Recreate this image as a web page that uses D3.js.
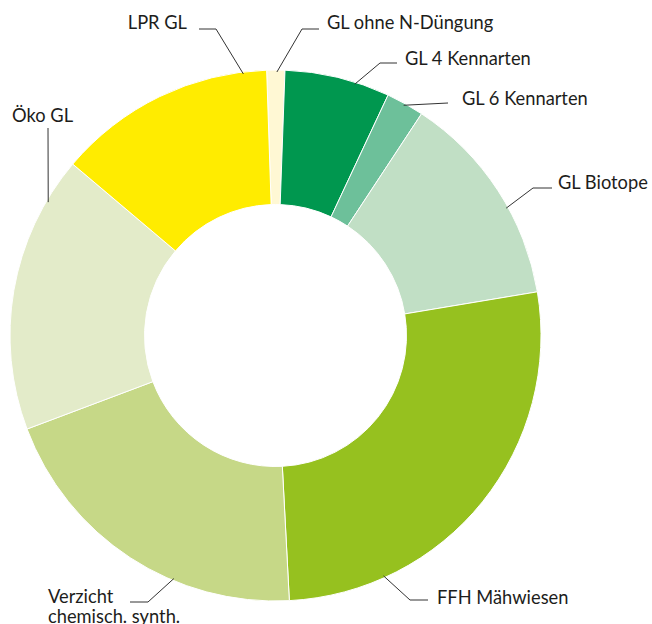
<!DOCTYPE html>
<html>
<head>
<meta charset="utf-8">
<script src="https://cdn.jsdelivr.net/npm/d3@7"></script>
<style>
  html, body { margin: 0; padding: 0; background: #fff; }
  svg { display: block; }
  text { font-family: Lato, "Open Sans", sans-serif; font-size: 18.3px; fill: #1d1d1b; }
</style>
</head>
<body>
<svg id="chart" width="652" height="624"></svg>
<script>
// ---- data ----
const categories = ["GL ohne N-Düngung", "GL 4 Kennarten", "GL 6 Kennarten", "GL Biotope",
                    "FFH Mähwiesen", "Verzicht chemisch. synth.", "Öko GL", "LPR GL"];
const values = [1.1, 6.4, 2.3, 13.1, 26.8, 20.1, 16.9, 13.3];
const colors = ["#fff8d4", "#00974f", "#6dc09a", "#c1dfc5", "#96c11f", "#c6d887", "#e3ebc9", "#ffec00"];
const labelLines = [["GL ohne N-Düngung"], ["GL 4 Kennarten"], ["GL 6 Kennarten"], ["GL Biotope"],
                    ["FFH Mähwiesen"], ["Verzicht", "chemisch. synth."], ["Öko GL"], ["LPR GL"]];

// ---- layout ----
const cx = 275.5, cy = 335.5, rOuter = 265.5, rInner = 131;
const startDeg = -1.91;
// leader: angle on outer ring (deg), elbow point, end point, text position
const leaders = [
  { a: 0.3,   elbow: [302, 29],  end: [319, 29],  tx: 327, ty: 29,  anchor: "start" },
  { a: 17.5,  elbow: [380, 63],  end: [397, 63],  tx: 405, ty: 65,  anchor: "start" },
  { a: 29.1,  elbow: null,       end: [448, 103], tx: 462, ty: 105, anchor: "start" },
  { a: 61.1,  elbow: [533, 188], end: [552, 188], tx: 558, ty: 189, anchor: "start" },
  { a: 155.8, elbow: [410, 600], end: [428, 600], tx: 437, ty: 604, anchor: "start" },
  { a: 202.7, elbow: [148, 602], end: [130, 602], tx: 48,  ty: 603, anchor: "start" },
  { a: 300.4, elbow: null,       end: [48, 128],  tx: 12,  ty: 122, anchor: "start" },
  { a: -7.0,  elbow: [216, 29],  end: [199, 29],  tx: 187, ty: 29,  anchor: "end" }
];

const svg = d3.select("#chart");
const g = svg.append("g").attr("transform", `translate(${cx},${cy})`);

const rad = d => d * Math.PI / 180;
const pie = d3.pie().sort(null).value(d => d)
  .startAngle(rad(startDeg)).endAngle(rad(startDeg + 360));
const arc = d3.arc().innerRadius(rInner).outerRadius(rOuter);

g.selectAll("path.slice")
  .data(pie(values))
  .join("path")
  .attr("class", "slice")
  .attr("d", arc)
  .attr("fill", (d, i) => colors[i])
  .attr("stroke", "#fff")
  .attr("stroke-width", 1);

// leaders
const lines = svg.append("g");
leaders.forEach((L, i) => {
  const ang = rad(L.a);
  const sx = cx + (rOuter - 2) * Math.sin(ang);
  const sy = cy - (rOuter - 2) * Math.cos(ang);
  const pts = [[sx, sy]];
  if (L.elbow) pts.push(L.elbow);
  pts.push(L.end);
  lines.append("path")
    .attr("d", d3.line()(pts))
    .attr("fill", "none")
    .attr("stroke", "#333")
    .attr("stroke-width", 1);
  const t = svg.append("text").attr("x", L.tx).attr("y", L.ty).attr("text-anchor", L.anchor);
  labelLines[i].forEach((s, j) => {
    t.append("tspan").attr("x", L.tx).attr("dy", j === 0 ? 0 : 20).text(s);
  });
});
</script>
</body>
</html>
